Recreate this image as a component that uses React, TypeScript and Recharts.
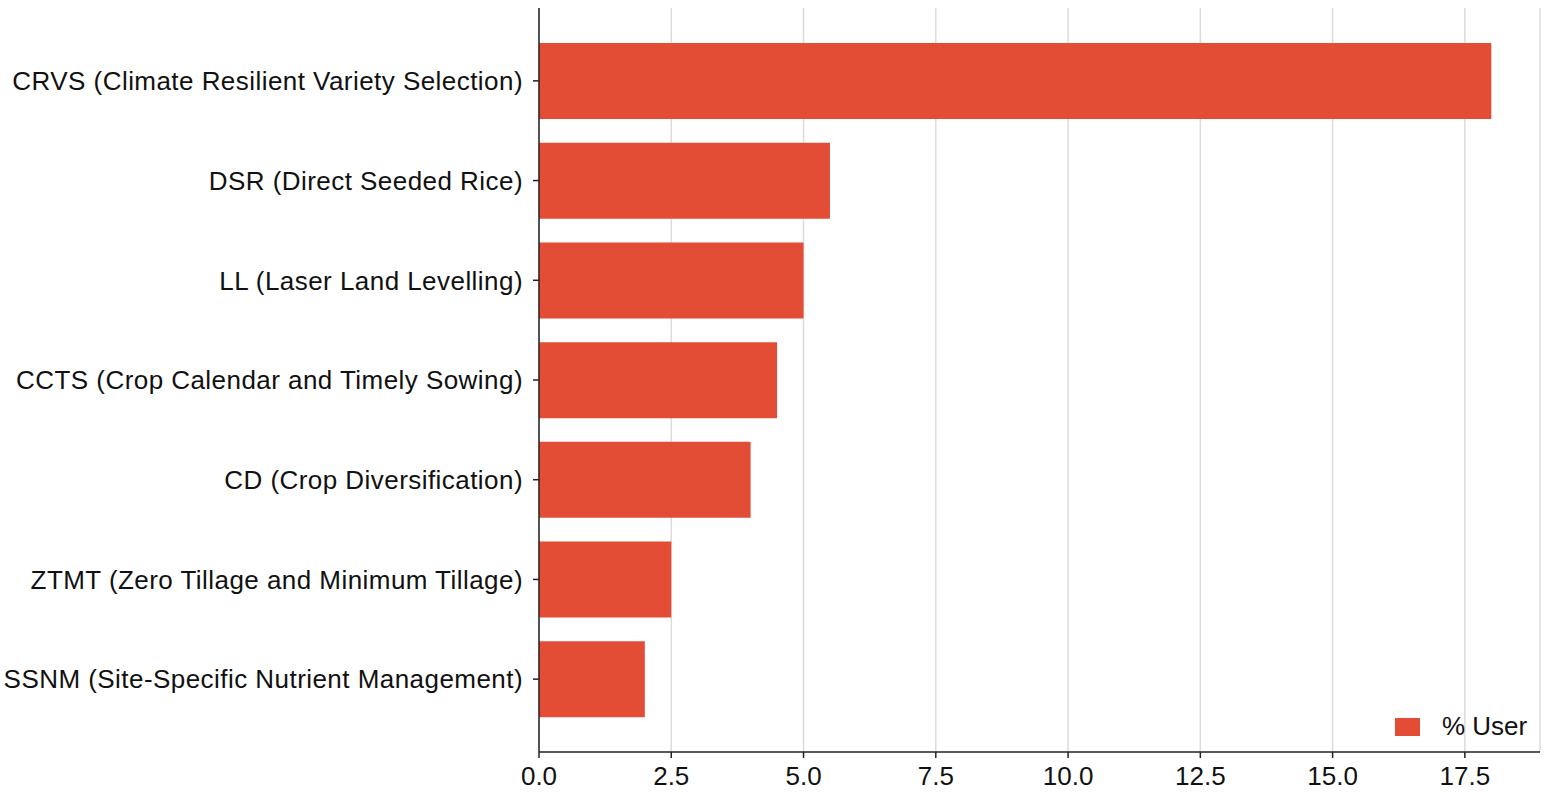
import { BarChart, Bar, XAxis, YAxis, CartesianGrid } from 'recharts';

const practices = [
  'CRVS (Climate Resilient Variety Selection)',
  'DSR (Direct Seeded Rice)',
  'LL (Laser Land Levelling)',
  'CCTS (Crop Calendar and Timely Sowing)',
  'CD (Crop Diversification)',
  'ZTMT (Zero Tillage and Minimum Tillage)',
  'SSNM (Site-Specific Nutrient Management)',
];

const userShare = [18.0, 5.5, 5.0, 4.5, 4.0, 2.5, 2.0];

const xTicks = [0, 2.5, 5, 7.5, 10, 12.5, 15, 17.5];

const seriesName = '% User';

const data = practices.map((name, i) => ({ name, value: userShare[i] }));

const BAR_COLOR = '#E34D35';
const FONT = 'Arial, "Liberation Sans", sans-serif';

export default function App() {
  return (
    <div style={{ position: 'absolute', left: 0, top: 0, width: 1547, height: 793, background: '#fff' }}>
      <BarChart
        width={1547}
        height={793}
        data={data}
        layout="vertical"
        margin={{ top: 8, right: 7, bottom: 0, left: 0 }}
      >
        <CartesianGrid horizontal={false} stroke="#dcdcdc" strokeWidth={1.5} />
        <XAxis
          type="number"
          domain={[0, 18.92]}
          ticks={xTicks}
          tickFormatter={(v: number) => v.toFixed(1)}
          height={41}
          stroke="#222"
          strokeWidth={1.5}
          tickSize={6}
          tickMargin={9}
          tick={{ fill: '#111', fontSize: 26, fontFamily: FONT }}
          allowDataOverflow
        />
        <YAxis
          type="category"
          dataKey="name"
          width={539}
          padding={{ top: 23, bottom: 23 }}
          stroke="#222"
          strokeWidth={1.5}
          tickSize={6}
          tickMargin={10}
          interval={0}
          tick={{ fill: '#111', fontSize: 26, fontFamily: FONT, letterSpacing: 0.45 }}
        />
        <Bar dataKey="value" name={seriesName} fill={BAR_COLOR} barSize={76} isAnimationActive={false} />
      </BarChart>
      <div
        style={{
          position: 'absolute',
          left: 1395,
          top: 711,
          display: 'flex',
          alignItems: 'center',
          fontFamily: FONT,
          fontSize: 26,
          color: '#111',
        }}
      >
        <span style={{ display: 'inline-block', width: 25, height: 18, background: BAR_COLOR, marginRight: 22 }} />
        <span>{seriesName}</span>
      </div>
    </div>
  );
}
